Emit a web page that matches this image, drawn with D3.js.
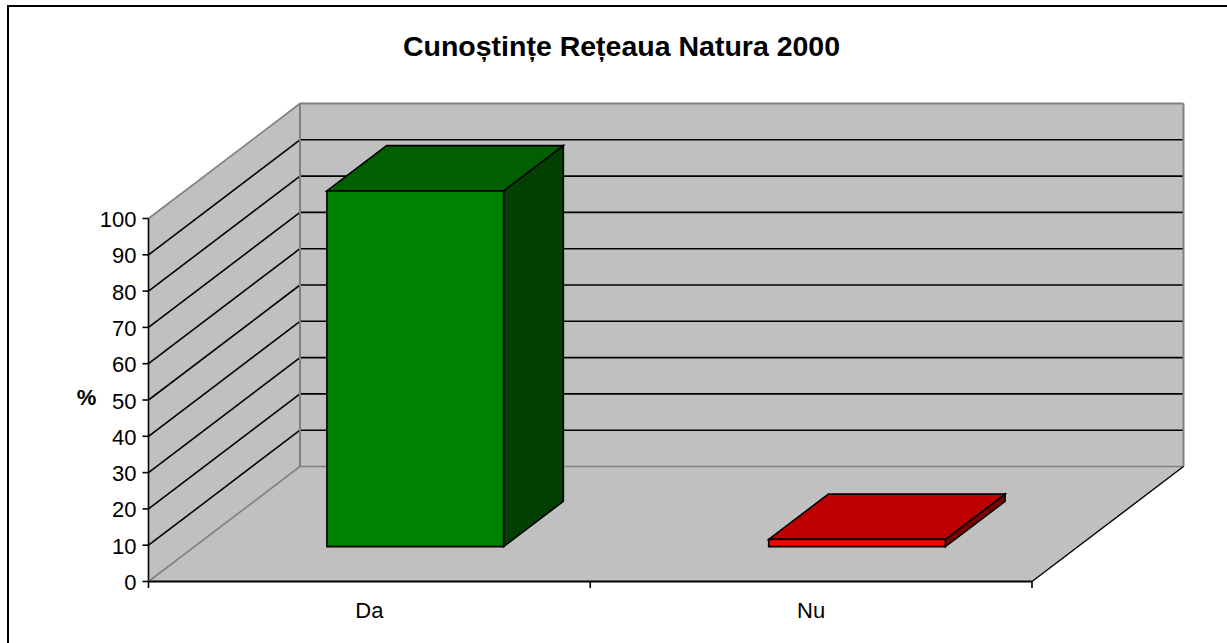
<!DOCTYPE html>
<html><head><meta charset="utf-8">
<script src="https://cdn.jsdelivr.net/npm/d3@7"></script>
<style>html,body{margin:0;padding:0;background:#fff}svg{display:block}text{font-family:"Liberation Sans",Arial,sans-serif;fill:#000}</style>
</head><body><svg id="c" width="1227" height="643"></svg>
<script>
const categories = ["Da", "Nu"];
const values = [98, 2];
const barColors = [
  {front:"#008000", top:"#006000", side:"#004000"},
  {front:"#ff0000", top:"#bf0000", side:"#800000"}
];
const yTicks = [0,10,20,30,40,50,60,70,80,90,100];
const titleText = "Cunoștințe Rețeaua Natura 2000";
const yTitle = "%";

const svg = d3.select("#c");
const x = d3.scaleBand().domain(categories).range([148.5,1032]).paddingInner(0).paddingOuter(0);
const y = d3.scaleLinear().domain([0,100]).range([581.5,218.5]);
// depth 0 = front, 1 = back wall
const zx = d3.scaleLinear().domain([0,1]).range([0,151.5]);
const zy = d3.scaleLinear().domain([0,1]).range([0,-115]);
const P = (px, v, z) => [px + zx(z), y(v) + zy(z)];
const poly = (pts, fill, stroke, w) => svg.append("path")
  .attr("d", "M" + pts.map(p => p.join(",")).join("L") + "Z")
  .attr("fill", fill).attr("stroke", stroke||"none").attr("stroke-width", w||0).attr("stroke-linejoin","miter");
const line = (a,b,stroke,w) => svg.append("line").attr("x1",a[0]).attr("y1",a[1]).attr("x2",b[0]).attr("y2",b[1]).attr("stroke",stroke).attr("stroke-width",w);

// outer chart frame (runs past the right and bottom edges)
svg.append("rect").attr("x",8).attr("y",6).attr("width",1300).attr("height",800).attr("fill","#fff").attr("stroke","#000").attr("stroke-width",2);

const [x0,x1] = x.range();
// walls and floor
poly([P(x0,0,0),P(x0,100,0),P(x0,100,1),P(x0,0,1)],"#c0c0c0");
poly([P(x0,0,1),P(x0,100,1),P(x1,100,1),P(x1,0,1)],"#c0c0c0");
poly([P(x0,0,0),P(x0,0,1),P(x1,0,1),P(x1,0,0)],"#c0c0c0");

// gridlines
yTicks.filter(t => t>0 && t<100).forEach(t => {
  line(P(x0,t,0),P(x0,t,1),"#000",1.6);
  line(P(x0,t,1),P(x1,t,1),"#000",1.6);
});
// gray wall edges
const g="#808080";
line(P(x0,0,0),P(x0,100,0),"#000",1.6);
line(P(x0,100,0),P(x0,100,1),g,1.6);
line(P(x0,100,1),P(x1,100,1),g,2);
line(P(x0,100,1),P(x0,0,1),g,2);
line(P(x1,100,1),P(x1,0,1),g,2);
line(P(x0,0,1),P(x1,0,1),g,1.6);
line(P(x0,0,0),P(x0,0,1),g,1.6);
// floor right edge + front axis
line(P(x1,0,0),P(x1,0,1),"#000",1.4);
line(P(x0,0,0),P(x1,0,0),"#000",2);

// bars
const zFront = 0.303, zBack = 0.697, pad = 0.3;
categories.forEach((c,i) => {
  const b = x(c), w = x.bandwidth();
  const l = b + w*pad, r = b + w*(1-pad), v = values[i], col = barColors[i];
  poly([P(r,0,zFront),P(r,v,zFront),P(r,v,zBack),P(r,0,zBack)],col.side,"#000",1.6);
  poly([P(l,v,zFront),P(l,v,zBack),P(r,v,zBack),P(r,v,zFront)],col.top,"#000",1.6);
  poly([P(l,0,zFront),P(l,v,zFront),P(r,v,zFront),P(r,0,zFront)],col.front,"#000",1.6);
});

// y axis ticks + labels
yTicks.forEach(t => {
  line([x0-6,y(t)],[x0,y(t)],"#000",1.6);
  svg.append("text").attr("x",136.5).attr("y",y(t)+8.5).attr("text-anchor","end").attr("font-size",22).text(t);
});
// x axis ticks + labels
const xTickPos = categories.map(c => x(c)).concat([x1]);
xTickPos.forEach(p => line([p,581.5],[p,588],"#000",1.6));
categories.forEach(c => {
  svg.append("text").attr("x",x(c)+x.bandwidth()/2).attr("y",618).attr("text-anchor","middle").attr("font-size",22).text(c);
});
svg.append("text").attr("x",621.5).attr("y",55.5).attr("text-anchor","middle").attr("font-size",28.5).attr("font-weight","bold").text(titleText);
svg.append("text").attr("x",86.5).attr("y",404.5).attr("text-anchor","middle").attr("font-size",22).attr("font-weight","bold").text(yTitle);
</script></body></html>
